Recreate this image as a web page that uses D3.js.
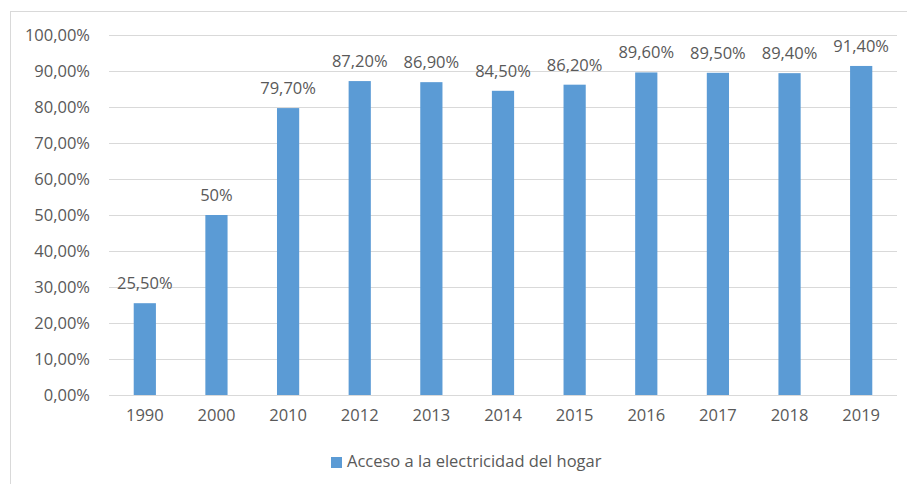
<!DOCTYPE html>
<html><head><meta charset="utf-8">
<script src="https://cdn.jsdelivr.net/npm/d3@7"></script>
<style>body{margin:0;background:#fff}svg{display:block}text{font-family:"Open Sans",sans-serif;fill:#595959}</style>
</head><body>
<script>
const categories = ["1990","2000","2010","2012","2013","2014","2015","2016","2017","2018","2019"];
const values = [25.5, 50, 79.7, 87.2, 86.9, 84.5, 86.2, 89.6, 89.5, 89.4, 91.4];
const labels = ["25,50%","50%","79,70%","87,20%","86,90%","84,50%","86,20%","89,60%","89,50%","89,40%","91,40%"];
const yTicks = [0,10,20,30,40,50,60,70,80,90,100];
const seriesName = "Acceso a la electricidad del hogar";

const W = 907, H = 484;
const svg = d3.select("body").append("svg").attr("width", W).attr("height", H);
svg.append("rect").attr("x", 10.5).attr("y", 11.5).attr("width", 1000).attr("height", 1000)
  .attr("fill", "#fff").attr("stroke", "#D9D9D9").attr("stroke-width", 1);

const x = d3.scaleBand().domain(categories).range([109, 897]).paddingInner(0.69).paddingOuter(0.345);
const y = d3.scaleLinear().domain([0, 100]).range([395, 35]);

const grid = svg.append("g");
grid.selectAll("line").data(yTicks.filter(d => d > 0)).join("line")
  .attr("x1", 109).attr("x2", 897)
  .attr("y1", d => Math.round(y(d)) + 0.5).attr("y2", d => Math.round(y(d)) + 0.5)
  .attr("stroke", "#D9D9D9").attr("stroke-width", 1);

const yAxis = d3.axisLeft(y).tickValues(yTicks).tickSize(0).tickPadding(19)
  .tickFormat(d => d3.format(".2f")(d).replace(".", ",") + "%");
const ya = svg.append("g").attr("transform", "translate(109,0)").call(yAxis);
ya.select(".domain").remove();
ya.selectAll("text").attr("font-size", 16.5).style("font-family", '"Open Sans",sans-serif').attr("fill", "#595959");

svg.append("g").selectAll("rect").data(values).join("rect")
  .attr("x", (d, i) => x(categories[i]))
  .attr("width", x.bandwidth())
  .attr("y", d => y(d))
  .attr("height", d => y(0) - y(d))
  .attr("fill", "#5B9BD5");

svg.append("line").attr("x1", 109).attr("x2", 897).attr("y1", 395.5).attr("y2", 395.5)
  .attr("stroke", "#D9D9D9").attr("stroke-width", 1);

const xAxis = d3.axisBottom(x).tickSize(0).tickPadding(14);
const xa = svg.append("g").attr("transform", "translate(0,395)").call(xAxis);
xa.select(".domain").remove();
xa.selectAll("text").attr("font-size", 16.5).style("font-family", '"Open Sans",sans-serif').attr("fill", "#595959");

svg.append("g").selectAll("text").data(values).join("text")
  .attr("x", (d, i) => x(categories[i]) + x.bandwidth() / 2)
  .attr("y", d => y(d) - 14)
  .attr("text-anchor", "middle").attr("font-size", 16.5)
  .text((d, i) => labels[i]);

const lg = svg.append("g");
lg.append("rect").attr("x", 331).attr("y", 457).attr("width", 11).attr("height", 11).attr("fill", "#5B9BD5");
lg.append("text").attr("x", 347).attr("y", 467).attr("font-size", 16.5).text(seriesName);
</script>
</body></html>
